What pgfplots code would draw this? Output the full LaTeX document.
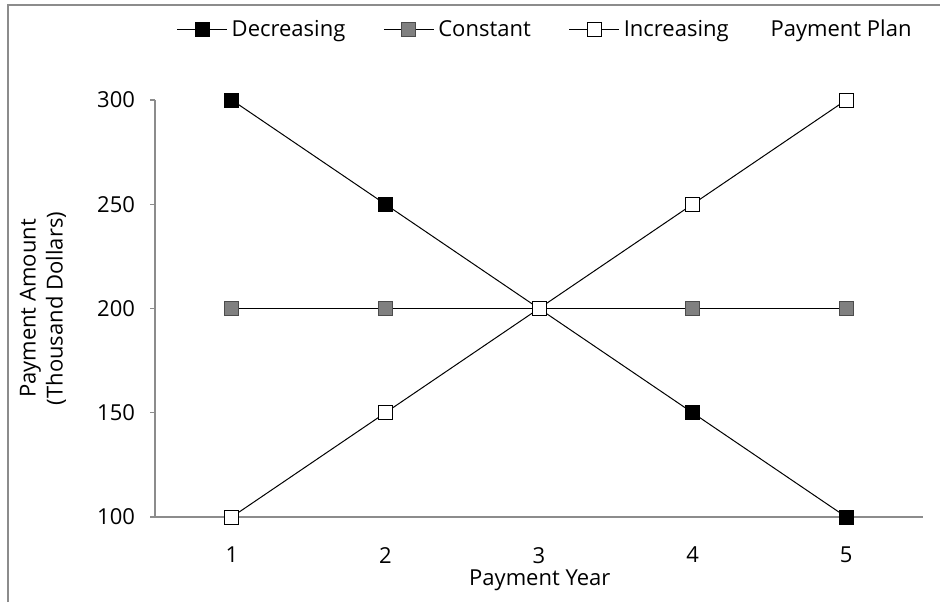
\documentclass[border=0pt]{standalone}
\usepackage{fontspec}
\setmainfont{Open Sans}
\usepackage{pgfplots}
\pgfplotsset{compat=1.18}
\definecolor{axgray}{HTML}{8C8C8C}
\definecolor{mkgray}{HTML}{808080}
\begin{document}
\begin{tikzpicture}[font=\fontsize{11}{13.5}\selectfont]
\path[use as bounding box] (-77.5pt,-42.5pt) rectangle (392.5pt,258.5pt);
\draw[axgray, line width=0.6pt] (-73.5pt,-42.5pt) -- (-73.5pt,256pt) -- (392.5pt,256pt);
\begin{axis}[
  scale only axis, width=384pt, height=208.5pt,
  xmin=0.5, xmax=5.5, ymin=100, ymax=300,
  axis lines*=left,
  axis line style={axgray, line width=0.6pt},
  xtick={1,2,3,4,5}, ytick={100,150,200,250,300},
  x tick style={draw=none},
  y tick style={axgray, line width=0.6pt},
  tick align=outside, major tick length=2.5pt,
  /pgf/number format/assume math mode=true,
  xticklabel style={yshift=-9pt},
  yticklabel style={xshift=-4pt},
  clip=false,
  xlabel={Payment Year},
  ylabel={Payment Amount\\(Thousand Dollars)},
  xlabel style={at={(axis description cs:0.501,-0.151)}, anchor=center},
  ylabel style={at={(axis description cs:-0.146,0.5)}, anchor=center, align=center},
  legend style={at={(axis description cs:0.508,1.168)}, anchor=center, draw=none, fill=none,
    nodes={inner xsep=1pt},
    /tikz/every even column/.append style={column sep=18pt},
    /tikz/every odd column/.append style={column sep=1pt}},
  legend columns=-1,
  legend image code/.code={\draw[#1, mark repeat=2, mark phase=2] plot coordinates {(0pt,0pt) (12.5pt,0pt) (25pt,0pt)};},
]
\addplot[black, line width=0.5pt, mark=square*, mark size=3.5pt, mark options={fill=black, draw=black}]
  coordinates {(1,300) (2,250) (3,200) (4,150) (5,100)};
\addlegendentry{Decreasing}
\addplot[black, line width=0.5pt, mark=square*, mark size=3.5pt, mark options={fill=mkgray, draw=black!70}]
  coordinates {(1,200) (2,200) (3,200) (4,200) (5,200)};
\addlegendentry{Constant}
\addplot[black, line width=0.5pt, mark=square*, mark size=3.5pt, mark options={fill=white, draw=black}]
  coordinates {(1,100) (2,150) (3,200) (4,250) (5,300)};
\addlegendentry{Increasing}
\addlegendimage{empty legend}
\addlegendentry{Payment Plan}
\end{axis}
\end{tikzpicture}
\end{document}
